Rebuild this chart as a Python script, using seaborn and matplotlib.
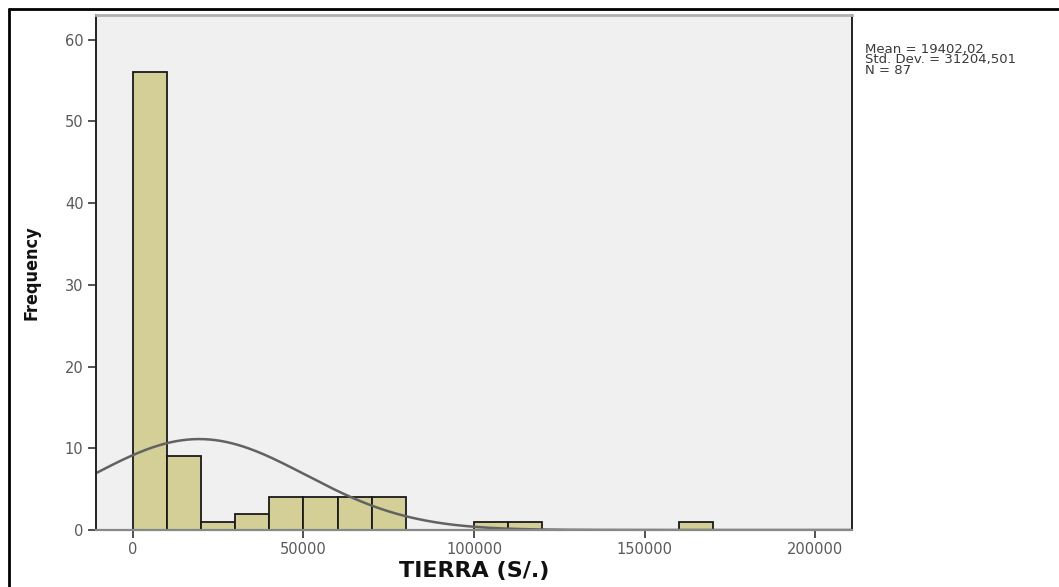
import numpy as np
import pandas as pd
import matplotlib
matplotlib.use("Agg")
import matplotlib.pyplot as plt
from matplotlib.lines import Line2D
import seaborn as sns

# histogram bins (S/.) and counts
bin_left = [0, 10000, 20000, 30000, 40000, 50000, 60000, 70000, 80000, 90000,
            100000, 110000, 120000, 130000, 140000, 150000, 160000]
counts = [56, 9, 1, 2, 4, 4, 4, 4, 0, 0, 1, 1, 0, 0, 0, 0, 1]
bin_width = 10000
mean_val = 19402.02
std_val = 31204.501
n_obs = 87

xticks = [0, 50000, 100000, 150000, 200000]
yticks = [0, 10, 20, 30, 40, 50, 60]
stats_lines = ["Mean = 19402,02", "Std. Dev. = 31204,501", "N = 87"]

df = pd.DataFrame({"tierra": bin_left, "freq": counts})
edges = bin_left + [bin_left[-1] + bin_width]

sns.set_theme(style="white")
plt.rcParams['font.family'] = ['DejaVu Sans']

W, H = 1059, 587
fig, ax = plt.subplots(figsize=(W / 100, H / 100), dpi=100)
fig.subplots_adjust(left=96 / W, right=852 / W, top=1 - 15 / H, bottom=1 - 530 / H)
ax.set_facecolor("#f0f0f0")

sns.histplot(data=df, x="tierra", weights="freq", bins=edges, ax=ax,
             color="#d4cf96", edgecolor="#1a1a1a", linewidth=1.3, alpha=1)

# normal curve scaled to counts
xlo, xhi = -10850, 210850
xs = np.linspace(xlo, xhi, 400)
ys = n_obs * bin_width * np.exp(-0.5 * ((xs - mean_val) / std_val) ** 2) / (std_val * np.sqrt(2 * np.pi))
sns.lineplot(x=xs, y=ys, ax=ax, color="#626262", linewidth=1.8)

ax.set_xlim(xlo, xhi)
ax.set_ylim(0, 63)
ax.set_xticks(xticks)
ax.set_yticks(yticks)
ax.set_xticklabels([str(t) for t in xticks])
ax.tick_params(axis="both", direction="out", length=6, width=1.2, color="#333333",
               labelcolor="#5a5a5a", labelsize=10.5, bottom=True, left=True, pad=3)

for side in ["left", "right"]:
    ax.spines[side].set_color("#222222")
    ax.spines[side].set_linewidth(1.4)
ax.spines["bottom"].set_color("#888888")
ax.spines["bottom"].set_linewidth(1.6)
ax.spines["top"].set_color("#b0b0b0")
ax.spines["top"].set_linewidth(2)

ax.set_xlabel("TIERRA (S/.)", fontsize=16, fontweight="bold", color="#111111",
              family=["DejaVu Sans"])
ax.xaxis.set_label_coords(0.5, -(561 - 530) / 515)
ax.set_ylabel("Frequency", fontsize=13, fontweight="bold", color="#111111",
              fontstretch="condensed", family=["DejaVu Sans"])
ax.yaxis.set_label_coords(-(96 - 41) / 756, 0.5)

for i, line in enumerate(stats_lines):
    fig.text(865 / W, 1 - (49 + 11 * i) / H, line, ha="left", va="center",
             fontsize=9.5, color="#3a3a3a")

# outer frame (left and top)
fig.add_artist(Line2D([9 / W, 9 / W], [0, 1 - 9 / H], transform=fig.transFigure,
                      color="black", linewidth=2))
fig.add_artist(Line2D([9 / W, 1], [1 - 9 / H, 1 - 9 / H], transform=fig.transFigure,
                      color="black", linewidth=2))

fig.savefig("out.png", dpi=100, facecolor="white")
